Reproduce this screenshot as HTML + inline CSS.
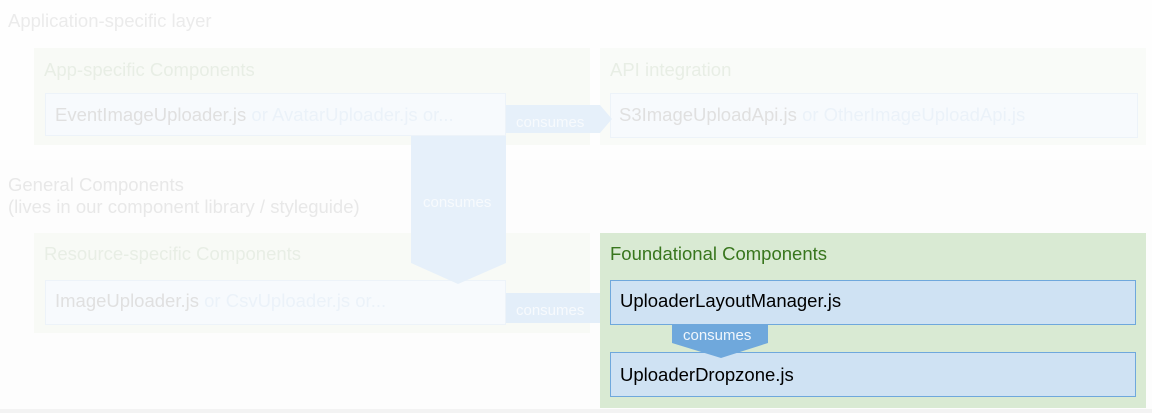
<!DOCTYPE html>
<html><head><style>
html,body{margin:0;padding:0;background:#fefefe;}
svg{display:block;font-family:"Liberation Sans",Arial,sans-serif;}
</style></head><body>
<svg width="1152" height="413" viewBox="0 0 1152 413" xmlns="http://www.w3.org/2000/svg">
<rect x="0" y="0" width="1152" height="413" fill="#fefefe"/>
<rect x="0" y="160" width="1152" height="250" fill="#fdfdfd"/>
<rect x="0" y="409" width="1152" height="4" fill="#f3f3f3"/>
<text x="8" y="27" font-size="18.5" fill="#ebebeb">Application-specific layer</text>
<rect x="34" y="48" width="556" height="97" fill="#f8faf6"/>
<text x="44" y="76" font-size="18.5" fill="#e8eee5">App-specific Components</text>
<rect x="45.5" y="93.5" width="460" height="42" fill="#f7fafd" stroke="#edf3f9"/>
<text x="55" y="121" font-size="18.5" fill="#e0e0e0">EventImageUploader.js <tspan fill="#ebf2f9">or AvatarUploader.js or...</tspan></text>
<rect x="600" y="48" width="546" height="97" fill="#f9fbf8"/>
<text x="610" y="76" font-size="18.5" fill="#e8eee5">API integration</text>
<rect x="610.5" y="93.5" width="527" height="44" fill="#f7fafd" stroke="#edf3f9"/>
<text x="619" y="121" font-size="18.5" fill="#e0e0e0">S3ImageUploadApi.js <tspan fill="#ebf2f9">or OtherImageUploadApi.js</tspan></text>
<polygon points="506,105 600,105 612,119 600,133 506,133" fill="#e6f0fa"/>
<text x="516" y="127" font-size="15" fill="#f7fafd">consumes</text>
<text x="8" y="191" font-size="18.5" fill="#e8e8e8">General Components</text>
<text x="8" y="213" font-size="18.5" fill="#e8e8e8">(lives in our component library / styleguide)</text>
<rect x="34" y="233" width="556" height="100" fill="#f8faf6"/>
<text x="44" y="260" font-size="18.5" fill="#e8eee5">Resource-specific Components</text>
<rect x="45.5" y="280.5" width="460" height="44" fill="#f7fafd" stroke="#edf3f9"/>
<text x="55" y="307" font-size="18.5" fill="#e0e0e0">ImageUploader.js <tspan fill="#ebf2f9">or CsvUploader.js or...</tspan></text>
<polygon points="411,136 506,136 506,263 458,284 411,263" fill="#e6f0fa"/>
<text x="423" y="207" font-size="15" fill="#f7fafd">consumes</text>
<polygon points="506,293 600,293 612,309 600,323 506,323" fill="#e3eef9"/>
<polygon points="600,293 612,309 600,323" fill="#6fa8dc"/>
<text x="516" y="315" font-size="15" fill="#f7fafd">consumes</text>
<rect x="600" y="233" width="546" height="175" fill="#d9ead3"/>
<text x="610" y="260" font-size="18.5" fill="#38761d">Foundational Components</text>
<rect x="610.5" y="280.5" width="525" height="44" fill="#cfe2f3" stroke="#6fa8dc"/>
<text x="620" y="307" font-size="18.5" fill="#000">UploaderLayoutManager.js</text>
<rect x="610.5" y="352.5" width="525" height="44" fill="#cfe2f3" stroke="#6fa8dc"/>
<text x="620" y="381" font-size="18.5" fill="#000">UploaderDropzone.js</text>
<polygon points="672,325 768,325 768,343 721,358 672,343" fill="#6fa8dc"/>
<text x="683" y="340" font-size="15" fill="#f0f6fc">consumes</text>
</svg>
</body></html>
